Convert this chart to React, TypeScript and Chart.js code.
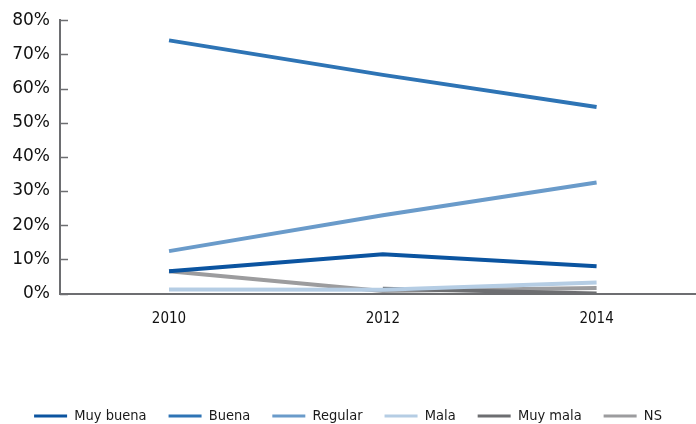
import React, { useEffect, useRef } from "react";
import { Chart, registerables } from "chart.js";

Chart.register(...registerables);

const years = [2010, 2012, 2014];
const muyBuena = [6.5, 11.5, 8.0];
const buena = [74.1, 64.0, 54.6];
const regular = [12.4, 22.9, 32.5];
const mala = [1.2, 1.1, 3.2];
const muyMala = [null, 1.4, 0.0];
const ns = [6.5, 0.7, 1.6];
const yTicks = [0, 10, 20, 30, 40, 50, 60, 70, 80];

const seriesNames = ["Muy buena", "Buena", "Regular", "Mala", "Muy mala", "NS"];
const seriesValues = [muyBuena, buena, regular, mala, muyMala, ns];
const seriesColors = ["#0b54a0", "#2e74b5", "#6a9bca", "#b5cde4", "#6d6e71", "#9c9c9e"];

const AXIS = "#6d6e71";

const innerTicks = {
  id: "innerTicks",
  afterDraw(chart: any) {
    const { ctx } = chart;
    const y = chart.scales.y;
    const x0 = chart.chartArea.left;
    ctx.save();
    ctx.strokeStyle = AXIS;
    ctx.lineWidth = 1.5;
    yTicks.forEach((v) => {
      const py = Math.round(y.getPixelForValue(v)) + 0.5;
      ctx.beginPath();
      ctx.moveTo(x0, py);
      ctx.lineTo(x0 + 8, py);
      ctx.stroke();
    });
    ctx.restore();
  },
};

export default function App() {
  const ref = useRef<HTMLCanvasElement | null>(null);
  useEffect(() => {
    document.body.style.margin = "0";
    const canvas = ref.current!;
    const chart = new Chart(canvas, {
      type: "line",
      data: {
        datasets: seriesNames.map((name, i) => ({
          label: name,
          data: years.map((x, j) => ({ x, y: seriesValues[i][j] })),
          borderColor: seriesColors[i],
          backgroundColor: seriesColors[i],
          borderWidth: 4,
          pointRadius: 0,
          pointStyle: "line",
          tension: 0,
          spanGaps: false,
        })),
      },
      options: {
        animation: false,
        responsive: false,
        layout: { padding: { top: 20, left: 0, right: 0, bottom: -9.25 } },
        plugins: {
          tooltip: { enabled: false },
          legend: {
            position: "bottom",
            labels: {
              usePointStyle: true,
              pointStyleWidth: 33,
              padding: 22,
              color: "#1a1a1a",
              font: { family: "'DejaVu Sans Condensed', sans-serif", size: 14.5 },
              generateLabels: (c: any) =>
                Chart.defaults.plugins.legend.labels
                  .generateLabels(c)
                  .map((l: any) => ({ ...l, lineWidth: 3 })),
            },
          },
        },
        scales: {
          x: {
            type: "linear",
            min: 2008.98,
            max: 2014.93,
            afterFit: (s: any) => { s.height = 93.25; },
            afterBuildTicks: (s: any) => { s.ticks = years.map((v) => ({ value: v })); },
            grid: { display: false, drawTicks: false },
            border: { display: true, color: AXIS, width: 2 },
            ticks: {
              padding: 17,
              color: "#111111",
              callback: (v: any) => String(v),
              font: { family: "'DejaVu Sans Condensed', sans-serif", size: 15 },
            },
          },
          y: {
            min: 0,
            max: 80,
            afterFit: (s: any) => { s.width = 60; },
            afterBuildTicks: (s: any) => { s.ticks = yTicks.map((v) => ({ value: v })); },
            grid: { display: false, drawTicks: false },
            border: { display: true, color: AXIS, width: 2 },
            ticks: {
              padding: 10,
              color: "#111111",
              callback: (v: any) => v + "%",
              font: { family: "'DejaVu Sans', sans-serif", size: 17 },
            },
          },
        },
      },
      plugins: [innerTicks],
    } as any);
    return () => chart.destroy();
  }, []);
  return <canvas ref={ref} width={696} height={424} style={{ display: "block" }} />;
}
